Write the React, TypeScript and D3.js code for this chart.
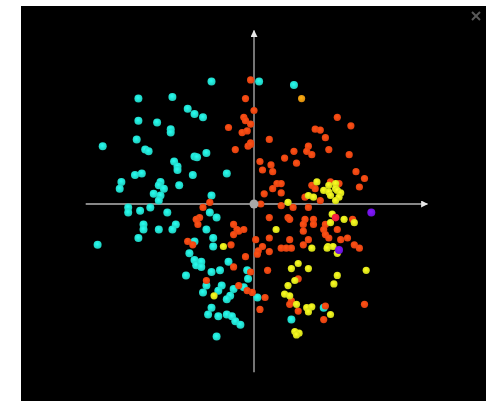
import { useEffect, useRef } from 'react';
import * as d3 from 'd3';

type Pt = [number, number];

const cyanPoints: Pt[] = [
  [-2.5, 7.2], [0.3, 7.2], [2.35, 7.0], [-6.8, 6.2], [-4.8, 6.3], [-3.9, 5.6], [-3.5, 5.3], [-3.0, 5.1],
  [-6.8, 4.9], [-5.7, 4.8], [-4.9, 4.4], [-4.9, 4.2], [-6.9, 3.8], [-8.9, 3.4], [-6.4, 3.2], [-6.2, 3.1],
  [-4.7, 2.5], [-4.5, 2.2], [-4.5, 2.0], [-3.5, 2.8], [-3.35, 2.75], [-2.8, 3.0], [-1.6, 1.8], [-3.6, 1.7],
  [-7.0, 1.7], [-6.6, 1.8], [-7.8, 1.3], [-7.9, 0.9], [-5.5, 1.3], [-5.6, 1.1], [-5.3, 0.9], [-4.4, 1.1],
  [-5.9, 0.6], [-5.5, 0.5], [-5.6, 0.2], [-2.5, 0.5], [-7.4, -0.2], [-7.4, -0.5], [-6.7, -0.4], [-6.1, -0.2],
  [-5.1, -0.5], [-2.6, -0.5], [-2.2, -0.8], [-6.5, -1.2], [-6.5, -1.5], [-5.6, -1.5], [-4.6, -1.2], [-4.8, -1.5],
  [-2.8, -1.5], [-6.8, -2.0], [-2.4, -2.0], [-9.2, -2.4], [-3.5, -2.2], [-2.4, -2.5], [-3.8, -2.9], [-3.5, -3.3],
  [-3.4, -3.6], [-3.1, -3.4], [-3.1, -3.7], [-1.5, -3.4], [-2.0, -3.9], [-2.5, -4.0], [-0.4, -3.9], [-0.35, -4.4],
  [-4.0, -4.2], [-2.8, -4.8], [-1.9, -4.8], [-1.2, -5.0], [-0.6, -4.9], [0.2, -5.5], [-3.0, -5.2], [-2.1, -5.1],
  [-1.4, -5.4], [-1.6, -5.6], [-2.5, -6.1], [-2.7, -6.5], [-2.1, -6.6], [-1.6, -6.5], [-1.3, -6.6], [-1.1, -6.9],
  [-0.8, -7.1], [-2.2, -7.8], [4.1, -6.1], [2.2, -6.8],
];

const orangePoints: Pt[] = [
  [-0.2, 7.3], [-0.5, 6.2], [0.0, 5.5], [-0.6, 5.1], [-0.5, 4.9], [-0.2, 4.7], [-1.5, 4.5], [-0.7, 4.2],
  [-0.4, 4.3], [-0.2, 3.6], [-0.35, 3.4], [-0.2, 3.5], [-1.1, 3.2], [-3.0, -0.2], [-2.6, 0.1],
  [4.9, 5.1], [5.7, 4.6], [3.6, 4.4], [3.9, 4.35], [4.2, 3.9], [0.9, 3.8], [3.2, 3.4], [4.4, 3.2],
  [3.1, 3.1], [3.4, 2.9], [2.35, 3.1], [1.8, 2.7], [2.5, 2.4], [5.6, 2.9], [0.35, 2.5], [1.0, 2.3],
  [0.5, 2.0], [1.1, 1.9], [6.0, 1.9], [6.5, 1.5], [6.2, 1.0], [1.35, 1.2], [1.6, 1.2], [1.1, 0.9],
  [0.6, 0.6], [1.6, 0.65], [3.4, 1.1], [3.6, 0.9], [4.5, 1.3], [5.0, 1.2], [3.0, 0.4], [3.9, 0.2],
  [1.6, -0.1], [2.3, -0.2], [3.2, -0.2], [0.4, 0.0],
  [0.9, -0.8], [2.0, -0.8], [2.1, -0.9], [3.0, -0.9], [2.9, -1.2], [3.5, -0.9], [3.5, -1.2], [4.2, -1.2],
  [5.8, -0.9], [4.1, -1.5], [4.9, -1.5], [2.9, -1.6], [4.2, -1.8], [4.4, -2.0], [2.1, -2.1], [3.2, -2.1],
  [2.9, -2.4], [0.9, -2.0], [0.1, -2.1], [5.5, -2.0], [5.1, -2.1], [5.9, -2.4], [6.2, -2.6], [0.5, -2.5],
  [0.25, -2.75], [0.2, -2.95], [0.9, -2.8], [1.6, -2.6], [1.9, -2.6], [2.2, -2.6], [0.8, -3.9], [2.6, -4.4],
  [-0.1, -5.2], [0.65, -5.5], [2.2, -5.7], [2.1, -5.9], [2.6, -6.3], [4.2, -6.0], [6.5, -5.9], [0.35, -6.2],
  [4.1, -6.8],
  [-3.2, -0.8], [-3.4, -0.9], [-3.3, -1.2], [-1.2, -1.2], [-1.0, -1.5], [-0.9, -1.6], [-0.6, -1.5], [-1.2, -1.8],
  [-3.9, -2.2], [-3.6, -2.4], [-1.35, -2.4], [-0.5, -3.1], [-1.2, -3.7], [-0.2, -4.0], [-2.8, -4.5], [-0.9, -4.8],
  [-0.4, -5.1],
];

const yellowPoints: Pt[] = [
  [3.7, 1.3], [4.4, 1.1], [4.8, 1.2], [4.1, 0.8], [4.4, 0.7], [4.8, 0.9], [4.9, 0.8], [5.1, 0.65],
  [5.0, 0.4], [4.5, 0.5], [3.2, 0.5], [3.5, 0.4], [4.8, 0.2], [2.0, 0.1],
  [4.6, -0.6], [5.3, -0.9], [5.9, -1.1], [4.5, -1.1], [1.3, -1.5], [3.4, -2.6], [4.35, -2.5], [4.65, -2.5],
  [4.3, -2.6], [4.9, -2.9], [2.6, -3.5], [2.2, -3.8], [3.2, -3.8], [4.9, -4.2], [6.6, -3.9], [2.4, -4.5],
  [4.7, -4.7], [2.0, -4.8], [1.8, -5.3], [2.1, -5.4], [2.5, -5.9], [3.1, -6.1], [3.4, -6.05], [3.2, -6.35],
  [4.5, -6.5], [2.4, -7.5], [2.65, -7.6], [2.5, -7.7],
  [-1.8, -2.5], [-2.35, -5.4],
];

const purplePoints: Pt[] = [[6.9, -0.5], [5.0, -2.7]];
const redPoints: Pt[] = [[4.8, -0.8]];
const goldPoints: Pt[] = [[2.8, 6.2]];

const series = [
  { name: 'cyan', points: cyanPoints, color: '#22e3d2', r: 4 },
  { name: 'orange', points: orangePoints, color: '#fa4712', r: 3.6 },
  { name: 'yellow', points: yellowPoints, color: '#e4ee1c', r: 3.6 },
  { name: 'gold', points: goldPoints, color: '#f09a10', r: 3.6 },
  { name: 'red', points: redPoints, color: '#ff1e3c', r: 3.8 },
  { name: 'purple', points: purplePoints, color: '#7414f0', r: 4 },
];

export default function App() {
  const ref = useRef<SVGSVGElement>(null);

  useEffect(() => {
    const width = 494;
    const height = 401;
    const svg = d3.select(ref.current);
    svg.selectAll('*').remove();
    svg.attr('viewBox', `0 0 ${width} ${height}`);

    const x = d3.scaleLinear().domain([-10, 10]).range([84, 424]);
    const y = d3.scaleLinear().domain([-10, 10]).range([374, 34]);

    const defs = svg.append('defs');
    defs
      .append('marker')
      .attr('id', 'arrow')
      .attr('viewBox', '0 0 10 10')
      .attr('refX', 9)
      .attr('refY', 5)
      .attr('markerWidth', 7)
      .attr('markerHeight', 7)
      .attr('markerUnits', 'userSpaceOnUse')
      .attr('orient', 'auto')
      .append('path')
      .attr('d', 'M0,0L10,5L0,10Z')
      .attr('fill', '#e8e8e8');

    series.forEach((s) => {
      const g = defs
        .append('radialGradient')
        .attr('id', `grad-${s.name}`)
        .attr('cx', '45%')
        .attr('cy', '40%')
        .attr('r', '60%');
      g.append('stop').attr('offset', '0%').attr('stop-color', d3.color(s.color)!.brighter(0.4).formatHex());
      g.append('stop').attr('offset', '100%').attr('stop-color', d3.color(s.color)!.darker(0.3).formatHex());
    });

    svg
      .append('rect')
      .attr('x', 21)
      .attr('y', 6)
      .attr('width', 465)
      .attr('height', height - 6)
      .attr('fill', '#000');

    // close icon
    const close = svg.append('g').attr('stroke', '#5a5a5a').attr('stroke-width', 2);
    close.append('line').attr('x1', 472).attr('y1', 12).attr('x2', 480).attr('y2', 20);
    close.append('line').attr('x1', 480).attr('y1', 12).attr('x2', 472).attr('y2', 20);

    const axes = svg.append('g').attr('stroke', '#b4b4b4').attr('stroke-width', 1.3);
    axes
      .append('line')
      .attr('x1', x(-9.9))
      .attr('x2', x(10.2))
      .attr('y1', y(0))
      .attr('y2', y(0))
      .attr('marker-end', 'url(#arrow)');
    axes
      .append('line')
      .attr('x1', x(0))
      .attr('x2', x(0))
      .attr('y1', y(-9.9))
      .attr('y2', y(10.2))
      .attr('marker-end', 'url(#arrow)');

    series.forEach((s) => {
      svg
        .append('g')
        .selectAll('circle')
        .data(s.points)
        .join('circle')
        .attr('cx', (d) => x(d[0]))
        .attr('cy', (d) => y(d[1]))
        .attr('r', s.r)
        .attr('fill', `url(#grad-${s.name})`);
    });

    svg
      .append('circle')
      .attr('cx', x(0))
      .attr('cy', y(0))
      .attr('r', 4.5)
      .attr('fill', '#a8a8a8');
  }, []);

  return (
    <svg
      ref={ref}
      width={494}
      height={401}
      style={{ position: 'absolute', left: 0, top: 0, display: 'block' }}
    />
  );
}
